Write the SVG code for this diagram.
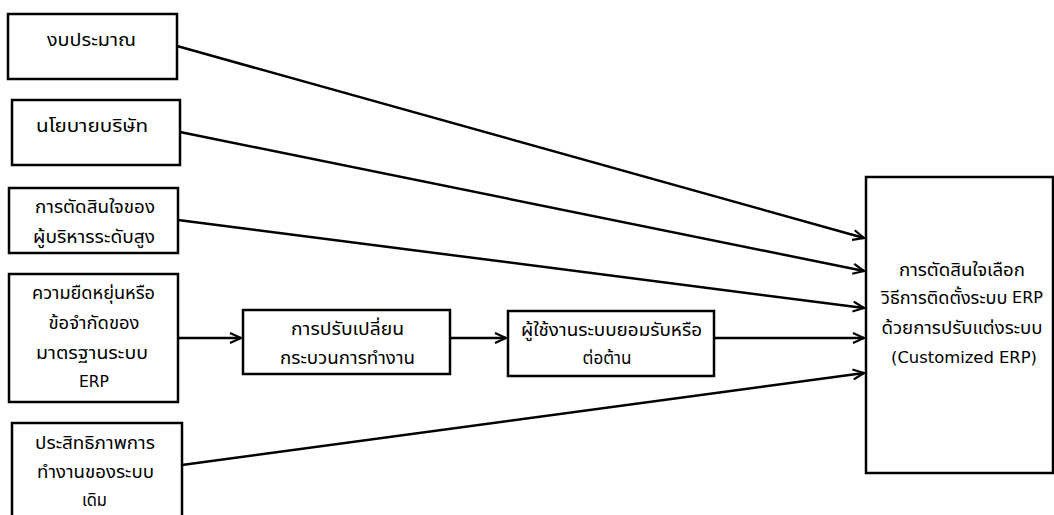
<svg xmlns="http://www.w3.org/2000/svg" width="1054" height="515" viewBox="0 0 1054 515">
<style>
.box{fill:#fff;stroke:#000;stroke-width:2.5}
.t{font-family:"Noto Sans Thai","Tahoma","DejaVu Sans","Noto Sans",sans-serif;font-size:17.5px;fill:#000;text-anchor:middle;dominant-baseline:central}
.l{font-family:"DejaVu Sans","Noto Sans",sans-serif;font-size:15.5px}
.c{fill:none;stroke:#000;stroke-width:2.5}
</style>
<defs>
<marker id="ah" markerWidth="14" markerHeight="12" refX="12" refY="6" orient="auto" markerUnits="userSpaceOnUse">
<path d="M1,1 L12,6 L1,11" fill="none" stroke="#000" stroke-width="2.2"/>
</marker>
</defs>
<rect width="1054" height="515" fill="#fff"/>
<g id="connectors">
<line class="c" x1="177" y1="46" x2="864" y2="238" marker-end="url(#ah)"/>
<line class="c" x1="180" y1="132" x2="864" y2="271" marker-end="url(#ah)"/>
<line class="c" x1="178" y1="220" x2="864" y2="308" marker-end="url(#ah)"/>
<line class="c" x1="178" y1="338" x2="241" y2="338" marker-end="url(#ah)"/>
<line class="c" x1="450" y1="338" x2="506" y2="338" marker-end="url(#ah)"/>
<line class="c" x1="714" y1="338" x2="864" y2="338" marker-end="url(#ah)"/>
<line class="c" x1="182" y1="465" x2="864" y2="373" marker-end="url(#ah)"/>
</g>
<g id="n1"><rect class="box" x="8" y="14" width="169" height="65"/><text class="t" x="91.5" y="40" textLength="89" lengthAdjust="spacingAndGlyphs">งบประมาณ</text></g>
<g id="n2"><rect class="box" x="12" y="100" width="168" height="65"/><text class="t" x="92" y="126" textLength="112" lengthAdjust="spacingAndGlyphs">นโยบายบริษัท</text></g>
<g id="n3"><rect class="box" x="9" y="188" width="169" height="65"/><text class="t" x="95" y="207" textLength="120" lengthAdjust="spacingAndGlyphs">การตัดสินใจของ</text><text class="t" x="94" y="237" textLength="122" lengthAdjust="spacingAndGlyphs">ผู้บริหารระดับสูง</text></g>
<g id="n4"><rect class="box" x="9" y="274" width="169" height="128"/><text class="t" x="93.5" y="293" textLength="123" lengthAdjust="spacingAndGlyphs">ความยืดหยุ่นหรือ</text><text class="t" x="94" y="323" textLength="91" lengthAdjust="spacingAndGlyphs">ข้อจำกัดของ</text><text class="t" x="92" y="353" textLength="112" lengthAdjust="spacingAndGlyphs">มาตรฐานระบบ</text><text class="t l" x="94" y="382" textLength="30" lengthAdjust="spacingAndGlyphs">ERP</text></g>
<g id="n5"><rect class="box" x="12" y="423" width="170" height="100"/><text class="t" x="95" y="443" textLength="120" lengthAdjust="spacingAndGlyphs">ประสิทธิภาพการ</text><text class="t" x="95.5" y="472" textLength="117" lengthAdjust="spacingAndGlyphs">ทำงานของระบบ</text><text class="t" x="94.5" y="500" textLength="25" lengthAdjust="spacingAndGlyphs">เดิม</text></g>
<g id="n6"><rect class="box" x="243" y="310" width="207" height="64"/><text class="t" x="347.5" y="329" textLength="113" lengthAdjust="spacingAndGlyphs">การปรับเปลี่ยน</text><text class="t" x="347.5" y="358" textLength="135" lengthAdjust="spacingAndGlyphs">กระบวนการทำงาน</text></g>
<g id="n7"><rect class="box" x="508" y="311" width="206" height="65"/><text class="t" x="611.5" y="330" textLength="181" lengthAdjust="spacingAndGlyphs">ผู้ใช้งานระบบยอมรับหรือ</text><text class="t" x="607" y="358" textLength="49" lengthAdjust="spacingAndGlyphs">ต่อต้าน</text></g>
<g id="n8"><rect class="box" x="866" y="177" width="187" height="296"/><text class="t" x="962" y="270" textLength="126" lengthAdjust="spacingAndGlyphs">การตัดสินใจเลือก</text><text class="t" x="962" y="298" textLength="162" lengthAdjust="spacingAndGlyphs">วิธีการติดตั้งระบบ <tspan class="l">ERP</tspan></text><text class="t" x="962" y="328" textLength="161" lengthAdjust="spacingAndGlyphs">ด้วยการปรับแต่งระบบ</text><text class="t l" x="964" y="358" textLength="146" lengthAdjust="spacingAndGlyphs">(Customized ERP)</text></g>
</svg>
